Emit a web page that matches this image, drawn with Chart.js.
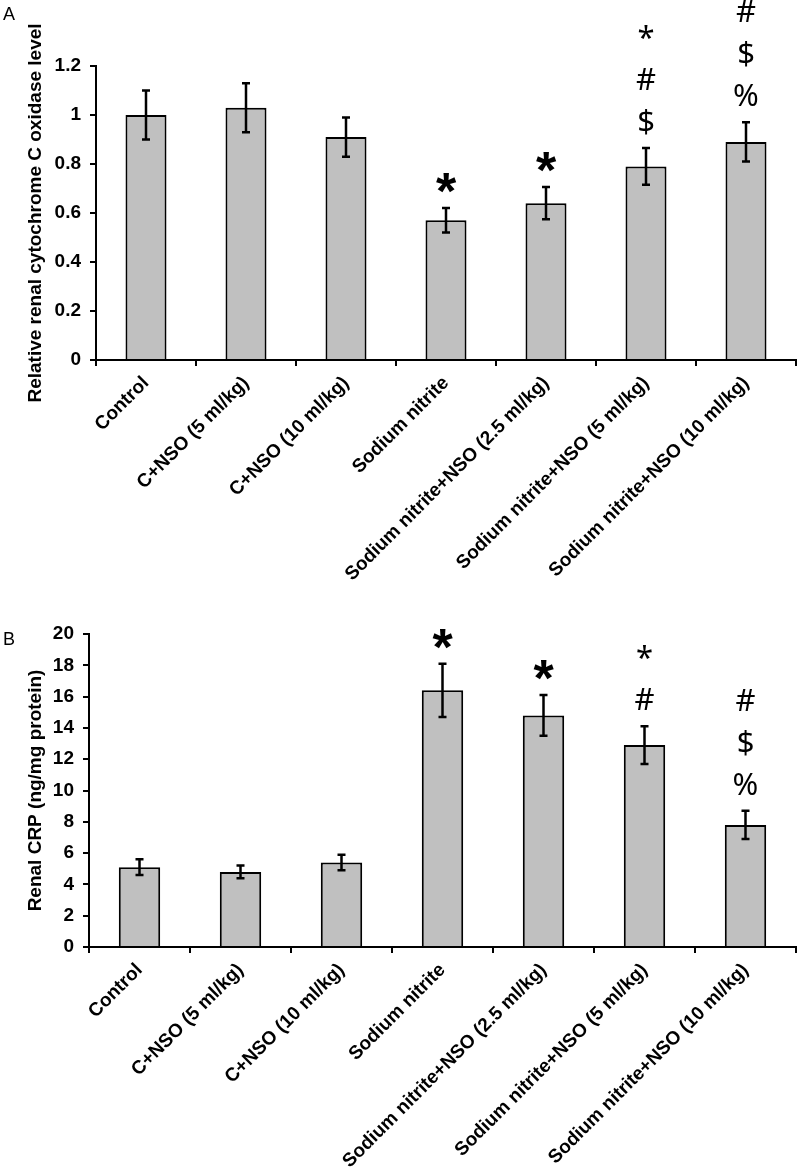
<!DOCTYPE html>
<html>
<head>
<meta charset="utf-8">
<script src="https://cdn.jsdelivr.net/npm/chart.js@4.4.1/dist/chart.umd.min.js"></script>
<style>
  body { margin: 0; background: #fff; }
  canvas { display: block; }
</style>
</head>
<body>
<canvas id="chartA" width="800" height="585"></canvas>
<canvas id="chartB" width="800" height="588"></canvas>
<script>
// renal cytochrome C oxidase (A) and renal CRP (B) per treatment group

const groups = [
  "Control",
  "C+NSO (5 ml/kg)",
  "C+NSO (10 ml/kg)",
  "Sodium nitrite",
  "Sodium nitrite+NSO (2.5 ml/kg)",
  "Sodium nitrite+NSO (5 ml/kg)",
  "Sodium nitrite+NSO (10 ml/kg)"
];

const cytoMean = [1.0, 1.03, 0.91, 0.57, 0.64, 0.79, 0.89];
const cytoErr = [0.10, 0.10, 0.08, 0.05, 0.066, 0.075, 0.08];
const cytoMarks = [[], [], [], ["*"], ["*"], ["*", "#", "$"], ["#", "$", "%"]];
const cytoTicks = [0, 0.2, 0.4, 0.6, 0.8, 1, 1.2];

const crpMean = [5.1, 4.8, 5.4, 16.4, 14.8, 12.9, 7.8];
const crpErr = [0.5, 0.4, 0.5, 1.7, 1.3, 1.2, 0.9];
const crpMarks = [[], [], [], ["*"], ["*"], ["*", "#"], ["#", "$", "%"]];
const crpTicks = [0, 2, 4, 6, 8, 10, 12, 14, 16, 18, 20];

const BOLD = "'Liberation Sans', Arial, sans-serif";

// error bars + significance symbols + panel letter
const extras = {
  id: "extras",
  afterDatasetsDraw(chart, args, opts) {
    const { ctx, scales: { x, y } } = chart;
    ctx.save();
    ctx.strokeStyle = "#000";
    ctx.lineWidth = 2.5;
    opts.means.forEach((m, i) => {
      const px = x.getPixelForValue(i);
      const top = y.getPixelForValue(m + opts.errs[i]);
      const bot = y.getPixelForValue(m - opts.errs[i]);
      ctx.beginPath();
      ctx.moveTo(px, top); ctx.lineTo(px, bot);
      ctx.moveTo(px - 4, top); ctx.lineTo(px + 4, top);
      ctx.moveTo(px - 4, bot); ctx.lineTo(px + 4, bot);
      ctx.stroke();

      const marks = opts.marks[i];
      ctx.fillStyle = "#000";
      ctx.textAlign = "center";
      ctx.textBaseline = "alphabetic";
      if (marks.length === 1) {
        ctx.font = "bold 52px " + BOLD;
        const d = ctx.measureText(marks[0]).actualBoundingBoxDescent;
        ctx.fillText(marks[0], px, top - 15 - d);
      } else {
        ctx.font = "31px 'Noto Sans', sans-serif";
        let base = top - 16;
        for (let k = marks.length - 1; k >= 0; k--) {
          ctx.fillText(marks[k], px, base);
          base -= 42;
        }
      }
    });
    ctx.font = "18px " + BOLD;
    ctx.textAlign = "left";
    ctx.fillText(opts.letter, 3, opts.letterY);
    ctx.restore();
  }
};

function makeChart(id, means, errs, marks, ticks, title, letter, geo) {
  new Chart(document.getElementById(id), {
    type: "bar",
    data: {
      labels: groups,
      datasets: [{
        data: means,
        backgroundColor: "#c0c0c0",
        borderColor: "#000",
        borderWidth: 2,
        borderSkipped: "bottom",
        barPercentage: 0.41,
        categoryPercentage: 1
      }]
    },
    options: {
      responsive: false,
      animation: false,
      layout: { padding: { top: geo.top, right: 4, left: 0, bottom: 0 } },
      plugins: {
        legend: { display: false },
        tooltip: { enabled: false },
        extras: { means, errs, marks, letter, letterY: geo.letterY }
      },
      scales: {
        x: {
          afterFit: s => { s.height = geo.xHeight; },
          border: { color: "#000", width: 2 },
          grid: { offset: true, drawOnChartArea: false, color: "#000", lineWidth: 2, tickLength: 6 },
          ticks: {
            color: "#000", maxRotation: 45, minRotation: 45, padding: 6,
            font: { family: BOLD, size: 19, weight: "bold" }
          }
        },
        y: {
          min: 0,
          max: ticks[ticks.length - 1],
          afterBuildTicks: s => { s.ticks = ticks.map(v => ({ value: v })); },
          afterFit: s => { s.width = geo.yWidth; },
          border: { color: "#000", width: 2 },
          grid: { drawOnChartArea: false, color: "#000", lineWidth: 2, tickLength: 6 },
          ticks: {
            color: "#000", padding: 9,
            callback: v => String(v),
            font: { family: BOLD, size: 19, weight: "bold" }
          },
          title: {
            display: true, text: title, color: "#000",
            padding: { top: 24, bottom: 0 },
            font: { family: BOLD, size: 19, weight: "bold" }
          }
        }
      }
    },
    plugins: [extras]
  });
}

makeChart("chartA", cytoMean, cytoErr, cytoMarks, cytoTicks,
  "Relative renal cytochrome C oxidase level", "A",
  { top: 66, xHeight: 225, yWidth: 96, letterY: 20 });

makeChart("chartB", crpMean, crpErr, crpMarks, crpTicks,
  "Renal CRP (ng/mg protein)", "B",
  { top: 49, xHeight: 226, yWidth: 89, letterY: 60 });
</script>
</body>
</html>
